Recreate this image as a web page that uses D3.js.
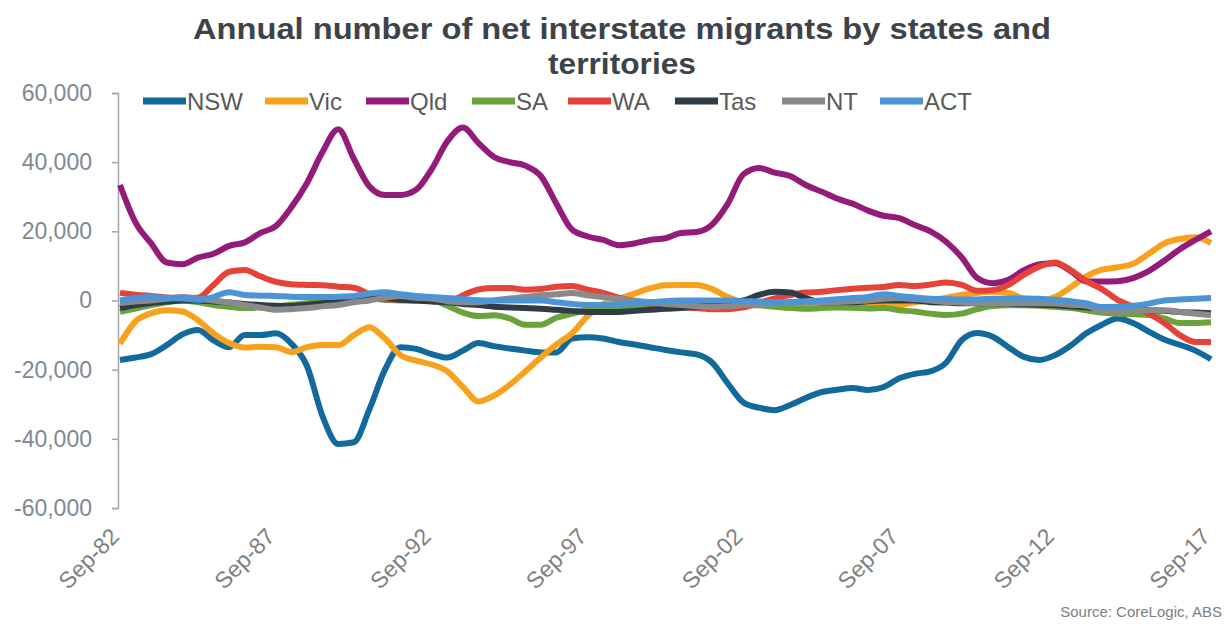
<!DOCTYPE html>
<html>
<head>
<meta charset="utf-8">
<script src="https://cdn.jsdelivr.net/npm/d3@7"></script>
<style>
  html, body { margin: 0; padding: 0; background: #ffffff; }
  svg { display: block; font-family: "Liberation Sans", Arial, sans-serif; }
</style>
</head>
<body>
<svg id="chart" width="1229" height="626"></svg>
<script>
// Annual net interstate migration (persons), half-yearly observations Sep-82 .. Sep-17
const firstYear = 1982;
const tickLabels = ["Sep-82", "Sep-87", "Sep-92", "Sep-97", "Sep-02", "Sep-07", "Sep-12", "Sep-17"];
const seriesNames = ["NSW", "Vic", "Qld", "SA", "WA", "Tas", "NT", "ACT"];
const seriesColors = ["#12699c", "#f7a11c", "#931c7a", "#6aa33a", "#e5433a", "#2e3c47", "#8a8a8a", "#4c94d6"];

const nsw = [-17200,-16500,-15500,-12900,-9800,-8500,-11500,-13500,-10000,-10000,
  -9500,-12500,-19000,-33500,-41500,-41000,-31500,-20000,-13500,-14000,
  -15500,-16500,-14500,-12300,-13200,-13900,-14500,-15000,-15000,-11000,
  -10600,-11000,-12000,-12700,-13500,-14300,-15000,-15600,-18000,-24000,
  -29500,-31000,-31700,-30200,-28200,-26500,-25800,-25300,-25900,-25000,
  -22500,-21200,-20500,-18000,-11500,-9400,-10500,-13500,-16300,-17200,
  -15800,-13000,-9500,-7000,-5200,-6500,-9000,-11300,-12800,-14500,-17000];
const vic = [-12500,-6000,-3700,-2800,-3200,-5700,-9500,-12300,-13600,-13400,
  -13500,-14900,-13500,-12900,-12900,-10000,-7700,-11000,-15800,-17400,
  -18500,-20500,-25000,-29200,-27500,-24400,-20500,-16500,-12700,-9500,
  -4500,-1000,500,2000,3500,4400,4500,4500,3300,1000,
  -600,-1300,-1500,-1300,-1500,-1200,-1400,-1500,-1300,-1500,
  -1300,-500,0,800,1600,2200,2500,2200,500,0,
  1000,3800,7000,8900,9600,10600,13500,16500,17800,18300,16600];
const qld = [33400,22500,16500,11000,10500,12400,13500,15800,16800,19500,
  21500,27000,34000,43000,49500,41000,33000,30500,30500,32000,
  38000,46000,50000,45500,41500,40000,39000,36000,28000,20500,
  18500,17500,16000,16500,17500,18000,19500,19800,22000,28000,
  36500,38300,37000,36000,33400,31500,29500,28000,26000,24500,
  23800,21800,20000,17000,12500,6500,5000,6000,8800,10500,
  10800,8500,5500,5500,5600,6500,8500,11500,14800,17500,20000];
const sa = [-3300,-2300,-1300,-500,0,-500,-1300,-1800,-2200,-2000,
  -1700,-1200,-800,-300,0,400,700,200,0,0,
  0,-1500,-3500,-4500,-4300,-5200,-7000,-7000,-5000,-3800,
  -2800,-2400,-2000,-1700,-1400,-1300,-1300,-1100,-1000,-1100,
  -1300,-1400,-1800,-2200,-2400,-2200,-2000,-2100,-2300,-2200,
  -2800,-3200,-3800,-4200,-3800,-2500,-1600,-1400,-1400,-1500,
  -1800,-2200,-2800,-3500,-3800,-4000,-4200,-5200,-6500,-6500,-6300];
const wa = [2200,1700,1300,900,700,800,4500,8300,8800,7000,
  5400,4700,4500,4400,4000,3700,1800,300,300,500,
  0,-400,1500,3200,3600,3600,3100,3300,4000,4200,
  3100,2200,800,-200,-900,-1500,-1900,-2200,-2500,-2500,
  -2000,-700,600,1600,2300,2500,3000,3400,3700,3900,
  4500,4200,4600,5200,4500,2800,3000,4500,7500,9800,
  11000,8800,5600,3300,200,-1800,-3800,-6500,-10000,-12000,-12000];
const tas = [-2200,-1300,-700,-300,0,0,-300,-600,-1000,-1300,
  -1500,-1600,-1200,-800,-300,0,400,700,200,0,
  -300,-500,-1000,-1300,-1800,-2000,-2200,-2400,-2700,-3000,
  -3300,-3300,-3300,-3000,-2700,-2400,-2200,-1800,-1500,-800,
  0,1600,2500,2300,700,-500,-500,-500,-200,0,
  0,0,-500,-600,-800,-800,-800,-900,-1100,-1200,
  -1400,-1700,-2000,-2100,-2200,-2500,-2800,-3000,-3300,-3500,-3700];
const nt = [-700,-300,0,500,1000,500,0,-600,-1300,-2000,
  -2700,-2500,-2200,-1700,-1300,-500,0,800,1300,800,
  600,-200,-500,-500,0,600,1000,1500,1800,2200,
  1500,1000,500,0,-500,-1000,-1300,-1700,-1900,-1700,
  -1300,-1200,-800,-700,-500,-400,-400,-200,0,500,
  700,400,0,-400,-600,-800,-800,-800,-800,-800,
  -900,-1200,-1500,-2800,-3300,-3000,-2800,-2800,-3300,-3800,-4200];
const act = [0,700,1000,700,600,200,1000,2400,1600,1400,
  1300,1100,1000,1000,1100,1300,2000,2400,1800,1300,
  1000,700,400,100,0,0,0,0,-500,-1000,
  -1300,-1300,-1000,-800,-500,-200,0,0,0,0,
  -200,-300,-500,-400,-200,0,400,700,1000,1800,
  1300,900,500,400,300,300,500,600,600,500,
  200,-200,-800,-1900,-1800,-1500,-900,0,300,500,700];

const seriesValues = [nsw, vic, qld, sa, wa, tas, nt, act];
const yTicks = [-60000, -40000, -20000, 0, 20000, 40000, 60000];

// Half-yearly period labels: Sep-82, Mar-83, Sep-83, ...
const periods = nsw.map((_, i) => {
  const yr = firstYear + Math.floor((i + 1) / 2);
  const mon = i % 2 === 0 ? "Sep" : "Mar";
  return mon + "-" + String(yr % 100).padStart(2, "0");
});

const svg = d3.select("#chart");

const x = d3.scalePoint().domain(periods).range([120, 1211]);
const y = d3.scaleLinear().domain([-60000, 60000]).range([508, 93]);

// Title
const title = svg.append("text")
  .attr("text-anchor", "middle")
  .attr("fill", "#3d4349").attr("font-weight", "bold").attr("font-size", 30);
title.append("tspan").attr("x", 622).attr("y", 39)
  .attr("textLength", 858).attr("lengthAdjust", "spacingAndGlyphs")
  .text("Annual number of net interstate migrants by states and");
title.append("tspan").attr("x", 622).attr("y", 74)
  .attr("textLength", 148).attr("lengthAdjust", "spacingAndGlyphs")
  .text("territories");

// Y axis
const yAxis = svg.append("g")
  .attr("transform", "translate(118,0)")
  .call(d3.axisLeft(y).tickValues(yTicks).tickSize(6).tickPadding(20)
    .tickFormat(d => d3.format(",")(d).replace("−", "-")));
yAxis.select(".domain").attr("stroke", "#a6a6a6").attr("stroke-width", 1.5);
yAxis.selectAll(".tick line").attr("stroke", "#a6a6a6").attr("stroke-width", 1.5);
yAxis.selectAll(".tick text")
  .attr("fill", "#7f8893").attr("font-size", 23)
  .attr("font-family", "'Liberation Sans', Arial, sans-serif");

// X axis labels (rotated), no axis line
const xAxis = svg.append("g")
  .attr("transform", "translate(0,508)")
  .call(d3.axisBottom(x)
    .tickValues(periods.filter(p => tickLabels.includes(p)))
    .tickSize(0));
xAxis.select(".domain").remove();
xAxis.selectAll(".tick text")
  .attr("fill", "#7f7f7f").attr("font-size", 23)
  .attr("font-family", "'Liberation Sans', Arial, sans-serif")
  .attr("text-anchor", "end")
  .attr("dy", null)
  .attr("y", 0)
  .attr("transform", "translate(0,30) rotate(-45)");

// Series lines
const line = d3.line()
  .x((d, i) => x(periods[i]))
  .y(d => y(d))
  .curve(d3.curveMonotoneX);

svg.append("g").selectAll("path")
  .data(seriesValues)
  .join("path")
  .attr("d", d => line(d))
  .attr("fill", "none")
  .attr("stroke", (d, i) => seriesColors[i])
  .attr("stroke-width", 6)
  .attr("stroke-linejoin", "round")
  .attr("stroke-linecap", "butt");

// Legend
const legendX = [143, 265, 366, 472, 568, 675, 782, 880];
const legend = svg.append("g");
seriesNames.forEach((name, i) => {
  const g = legend.append("g").attr("transform", `translate(${legendX[i]},101)`);
  g.append("line").attr("x1", 0).attr("x2", 43).attr("y1", 0).attr("y2", 0)
    .attr("stroke", seriesColors[i]).attr("stroke-width", 7);
  g.append("text").attr("x", 44).attr("y", 9)
    .attr("fill", "#595959").attr("font-size", 24).text(name);
});

// Source note
svg.append("text")
  .attr("x", 1222).attr("y", 617).attr("text-anchor", "end")
  .attr("fill", "#7f7f7f").attr("font-size", 15)
  .text("Source: CoreLogic, ABS");
</script>
</body>
</html>
